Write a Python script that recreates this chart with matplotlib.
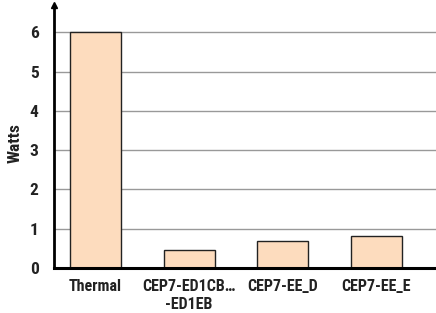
import matplotlib
matplotlib.use("Agg")
import matplotlib.pyplot as plt

categories = ["Thermal", "CEP7-ED1CB…\n-ED1EB", "CEP7-EE_D", "CEP7-EE_E"]
watts = [6.0, 0.46, 0.69, 0.82]
yticks = [0, 1, 2, 3, 4, 5, 6]

plt.rcParams['font.family'] = ["Roboto Condensed", "DejaVu Sans"]

fig = plt.figure(figsize=(4.36, 3.13), dpi=100)
ax = fig.add_axes([54/436, 45/313, 382/436, 263/313])

x = list(range(len(categories)))
ax.bar(x, watts, width=0.545, color="#FDDCBE", edgecolor="#222222", linewidth=1.0, zorder=3)

ax.set_xlim(-0.444, 3.64)
ax.set_ylim(0, 6.7)
ax.set_yticks(yticks)
ax.set_yticklabels([str(v) for v in yticks], fontsize=12.5, fontweight="bold", color="#222222")
ax.set_xticks(x)
ax.set_xticklabels(categories, fontsize=11.5, fontweight="bold", color="#222222", linespacing=1.2)
ax.tick_params(axis="both", length=0)
ax.tick_params(axis="y", pad=11)
ax.tick_params(axis="x", pad=8)
for v in yticks[1:]:
    ax.axhline(v, color="#999999", linewidth=1.0, zorder=1)

for s in ["top", "right"]:
    ax.spines[s].set_visible(False)
ax.spines["left"].set_linewidth(2)
ax.spines["bottom"].set_linewidth(2.2)
ax.spines["left"].set_zorder(4)
ax.spines["bottom"].set_zorder(4)
ax.plot([0], [1.0], marker="^", color="black", markersize=5, transform=ax.transAxes, clip_on=False, zorder=5)

ax.set_ylabel("Watts", fontsize=12.5, fontweight="bold", color="#222222")
ax.yaxis.set_label_coords(-0.081, 0.475)

fig.savefig("out.png", dpi=100)
